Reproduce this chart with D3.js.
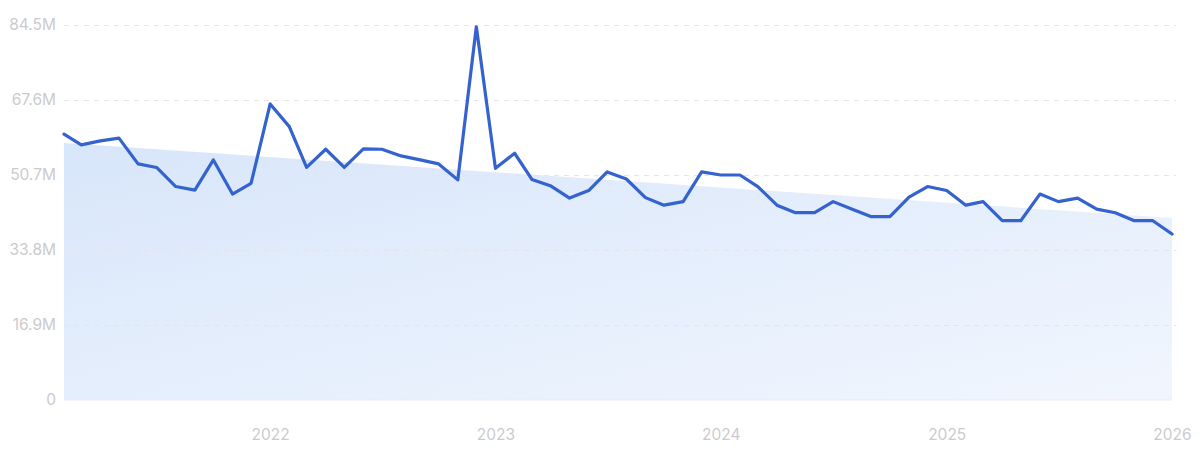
<!DOCTYPE html>
<html>
<head>
<meta charset="utf-8">
<script src="https://cdn.jsdelivr.net/npm/d3@7"></script>
<style>
  html, body { margin: 0; padding: 0; background: #fff; }
  svg { display: block; }
</style>
</head>
<body>
<svg id="chart" width="1200" height="461"></svg>
<script>
// ---- data ----
const startMonth = "2021-02";   // first monthly point
const values = [
  59.9, 57.5, 58.4, 59.0, 53.2, 52.4, 48.1, 47.3, 54.1, 46.4, 48.8,
  66.7, 61.6, 52.4, 56.5, 52.4, 56.6, 56.5, 55.0, 54.1, 53.2, 49.6, 84.1,
  52.2, 55.6, 49.7, 48.2, 45.5, 47.2, 51.4, 49.8, 45.6, 43.9, 44.7, 51.4,
  50.7, 50.7, 48.1, 43.9, 42.2, 42.2, 44.7, 43.0, 41.3, 41.3, 45.7, 48.1,
  47.2, 43.9, 44.7, 40.4, 40.4, 46.4, 44.7, 45.5, 43.0, 42.2, 40.4, 40.4,
  37.4
]; // millions
const trendValues = [57.9, 41.0]; // trend band, start and end (millions)
const yTicks = [0, 16.9, 33.8, 50.7, 67.6, 84.5];
const yTickLabels = ["0", "16.9M", "33.8M", "50.7M", "67.6M", "84.5M"];
const xTickYears = [2022, 2023, 2024, 2025, 2026];

// ---- layout ----
const svg = d3.select("#chart");
const margin = { left: 64, right: 28, top: 25, bottom: 61 };
const W = 1200, H = 461;

const parse = d3.timeParse("%Y-%m");
const t0 = parse(startMonth);
const dates = values.map((_, i) => d3.timeMonth.offset(t0, i));
const data = values.map((v, i) => ({ date: dates[i], value: v }));

const x = d3.scaleTime()
  .domain([dates[0], dates[dates.length - 1]])
  .range([margin.left, W - margin.right]);
const y = d3.scaleLinear()
  .domain([0, 84.5])
  .range([H - margin.bottom, margin.top]);

// gradient for trend area
const defs = svg.append("defs");
const grad = defs.append("linearGradient")
  .attr("id", "areaGrad")
  .attr("x1", "0%").attr("y1", "0%")
  .attr("x2", "100%").attr("y2", "100%");
grad.append("stop").attr("offset", "0%").attr("stop-color", "#d8e6fa");
grad.append("stop").attr("offset", "100%").attr("stop-color", "#f1f6fe");

const yAxis = d3.axisLeft(y)
  .tickValues(yTicks)
  .tickFormat((d, i) => yTickLabels[i])
  .tickSize(-(W - margin.left - margin.right + 4))
  .tickPadding(8);

// trend area (drawn first)
const trendData = [
  { date: dates[0], value: trendValues[0] },
  { date: dates[dates.length - 1], value: trendValues[1] }
];
svg.append("path")
  .datum(trendData)
  .attr("fill", "url(#areaGrad)")
  .attr("d", d3.area()
    .x(d => x(d.date))
    .y0(y(0))
    .y1(d => y(d.value)));

const gy = svg.append("g")
  .attr("transform", `translate(${margin.left},0)`)
  .call(yAxis);
gy.select(".domain").remove();
gy.selectAll(".tick line")
  .attr("stroke", "#e3e5ea")
  .attr("stroke-width", 1)
  .attr("stroke-dasharray", "5,5");
gy.selectAll(".tick")
  .filter(d => d === 0)
  .select("line").remove();
gy.selectAll(".tick text")
  .attr("fill", "#cbcbce")
  .attr("font-family", "Inter, 'Noto Sans', sans-serif")
  .attr("font-size", 15.5);

// x axis
const xAxis = d3.axisBottom(x)
  .tickValues(xTickYears.map(yr => new Date(yr, 0, 1)))
  .tickFormat(d3.timeFormat("%Y"))
  .tickSize(0)
  .tickPadding(29);
const gx = svg.append("g")
  .attr("transform", `translate(0,${H - margin.bottom})`)
  .call(xAxis);
gx.select(".domain").remove();
gx.selectAll(".tick text")
  .attr("fill", "#cbcbce")
  .attr("font-family", "Inter, 'Noto Sans', sans-serif")
  .attr("font-size", 15.5);

// baseline
svg.append("line")
  .attr("x1", margin.left).attr("x2", W - margin.right)
  .attr("y1", y(0)).attr("y2", y(0))
  .attr("stroke", "#e6ecf7").attr("stroke-width", 1);

// main line
svg.append("path")
  .datum(data)
  .attr("fill", "none")
  .attr("stroke", "#3462cf")
  .attr("stroke-width", 3.2)
  .attr("stroke-linejoin", "round")
  .attr("stroke-linecap", "round")
  .attr("d", d3.line().x(d => x(d.date)).y(d => y(d.value)));
</script>
</body>
</html>
